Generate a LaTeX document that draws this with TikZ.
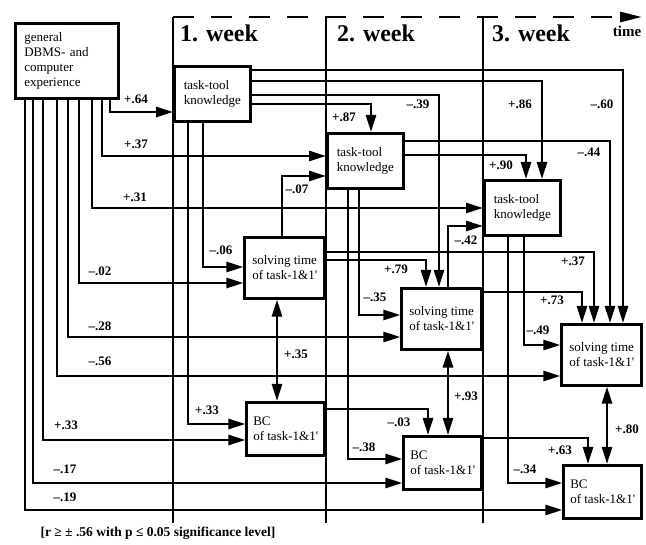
\documentclass[tikz,border=0pt]{standalone}
\usepackage{fontspec}
\setmainfont{Liberation Serif}
\usetikzlibrary{arrows.meta}

\begin{document}
\begin{tikzpicture}[x=1pt,y=-1pt,line width=2.6pt,>={Triangle[length=17pt,width=10pt]}]
\tikzstyle{box}=[draw,align=left,inner sep=3pt,font=\fontsize{13}{15}\selectfont]
\tikzstyle{K}=[box,minimum width=76pt,minimum height=55pt]
\tikzstyle{S}=[box,minimum width=80pt,minimum height=61pt]
\tikzstyle{BC}=[box,minimum width=78pt,minimum height=53pt]
\tikzstyle{L}=[inner sep=0pt,font=\fontsize{13}{15}\selectfont\bfseries]
\tikzstyle{W}=[inner sep=0pt,font=\fontsize{24}{28}\selectfont\bfseries]
\useasboundingbox (0,0) rectangle (646,545);
% time axis and the three weeks
\coordinate (t0) at (173,17); \coordinate (t1) at (642,17);
\draw[dash pattern=on 21pt off 17pt,-{Triangle[length=22pt,width=10pt]}] (t0)--(t1);
\draw (t0)--(173,523); \draw (326,17)--(326,523); \draw (483,17)--(483,523);
\node[W] (wk1) at (219,33) {1. week};
\node[W] (wk2) at (376,33) {2. week};
\node[W] (wk3) at (531,33) {3. week};
\node[L,font=\fontsize{15}{17}\selectfont\bfseries] (time) at (627,31) {time};
% boxes
\node[box,text width=85pt,inner xsep=9pt,minimum height=75pt,anchor=north west] (gen) at (14,22) {general\\DBMS- and\\computer\\experience};
\node[K,anchor=north west] (tt1) at (173,65) {task-tool\\knowledge};
\node[K,anchor=north west] (tt2) at (326,132) {task-tool\\knowledge};
\node[K,anchor=north west] (tt3) at (483,179) {task-tool\\knowledge};
\node[S,anchor=north east] (st1) at (326,236) {solving time\\of task-1\&1\textquotesingle};
\node[S,anchor=north east] (st2) at (483,287) {solving time\\of task-1\&1\textquotesingle};
\node[S,anchor=north east] (st3) at (643,323) {solving time\\of task-1\&1\textquotesingle};
\node[BC,anchor=north east] (bc1) at (326,401) {BC\\of task-1\&1\textquotesingle};
\node[BC,anchor=north east] (bc2) at (483,435) {BC\\of task-1\&1\textquotesingle};
\node[BC,anchor=north east] (bc3) at (643,464) {BC\\of task-1\&1\textquotesingle};
% from general experience
\draw[->] (gen.south -| 110,0) |- (tt1.west |- 0,112);
\draw[->] (gen.south -| 102,0) |- (tt2.west |- 0,156);
\draw[->] (gen.south -| 92,0) |- (tt3.west |- 0,208);
\draw[->] (gen.south -| 79,0) |- (st1.west |- 0,283);
\draw[->] (gen.south -| 68,0) |- (st2.west |- 0,337);
\draw[->] (gen.south -| 57,0) |- (st3.west |- 0,376);
\draw[->] (gen.south -| 43,0) |- (bc1.west |- 0,440);
\draw[->] (gen.south -| 33,0) |- (bc2.west |- 0,483);
\draw[->] (gen.south -| 25,0) |- (bc3.west |- 0,510);
% from task-tool knowledge
\draw[->] (tt1.east |- 0,104) -| (tt2.north -| 371,0);
\draw[->] (tt1.east |- 0,95) -| (st2.north -| 439,0);
\draw[->] (tt1.east |- 0,81) -| (tt3.north -| 542,0);
\draw[->] (tt1.east |- 0,70) -| (st3.north -| 623,0);
\draw[->] (tt1.south -| 203,0) |- (st1.west |- 0,267);
\draw[->] (tt1.south -| 188,0) |- (bc1.west |- 0,424);
\draw[->] (tt2.east |- 0,141) -| (st3.north -| 610,0);
\draw[->] (tt2.east |- 0,155) -| (tt3.north -| 526,0);
\draw[->] (tt2.south -| 359,0) |- (st2.west |- 0,315);
\draw[->] (tt2.south -| 348,0) |- (bc2.west |- 0,459);
\draw[->] (tt3.south -| 524,0) |- (st3.west |- 0,345);
\draw[->] (tt3.south -| 508,0) |- (bc3.west |- 0,483);
% from solving time and BC
\draw[->] (st1.north -| 282,0) |- (tt2.west |- 0,176);
\draw[->] (st1.east |- 0,260) -| (st2.north -| 426,0);
\draw[->] (st1.east |- 0,252) -| (st3.north -| 594,0);
\draw[->] (st2.north -| 448,0) |- (tt3.west |- 0,226);
\draw[->] (st2.east |- 0,292) -| (st3.north -| 582,0);
\draw[->] (bc1.east |- 0,409) -| (bc2.north -| 428,0);
\draw[->] (bc2.east |- 0,438) -| (bc3.north -| 588,0);
\draw[<->] (st1.south -| 277,0) -- (bc1.north -| 277,0);
\draw[<->] (st2.south -| 448,0) -- (bc2.north -| 448,0);
\draw[<->] (st3.south -| 607,0) -- (bc3.north -| 607,0);
% correlations
\node[L] (r1) at (136,99) {+.64};
\node[L] (r2) at (136,144) {+.37};
\node[L] (r3) at (135,197) {+.31};
\node[L] (r4) at (100,271) {–.02};
\node[L] (r5) at (100,326) {–.28};
\node[L] (r6) at (100,361) {–.56};
\node[L] (r7) at (66,425) {+.33};
\node[L] (r8) at (65,469) {–.17};
\node[L] (r9) at (65,497) {–.19};
\node[L] (r10) at (344,117) {+.87};
\node[L] (r11) at (418,104) {–.39};
\node[L] (r12) at (520,104) {+.86};
\node[L] (r13) at (602,104) {–.60};
\node[L] (r14) at (221,250) {–.06};
\node[L] (r15) at (207,410) {+.33};
\node[L] (r16) at (589,152) {–.44};
\node[L] (r17) at (501,165) {+.90};
\node[L] (r18) at (375,297) {–.35};
\node[L] (r19) at (364,447) {–.38};
\node[L] (r20) at (538,330) {–.49};
\node[L] (r21) at (525,469) {–.34};
\node[L] (r22) at (297,189) {–.07};
\node[L] (r23) at (396,269) {+.79};
\node[L] (r24) at (573,261) {+.37};
\node[L] (r25) at (466,240) {–.42};
\node[L] (r26) at (552,300) {+.73};
\node[L] (r27) at (399,422) {–.03};
\node[L] (r28) at (560,450) {+.63};
\node[L] (r29) at (296,354) {+.35};
\node[L] (r30) at (466,396) {+.93};
\node[L] (r31) at (627,429) {+.80};
\node[L,font=\fontsize{13.5}{16}\selectfont\bfseries] (note) at (158,533) {[r ≥ ± .56 with p ≤ 0.05 significance level]};
\end{tikzpicture}
\end{document}
